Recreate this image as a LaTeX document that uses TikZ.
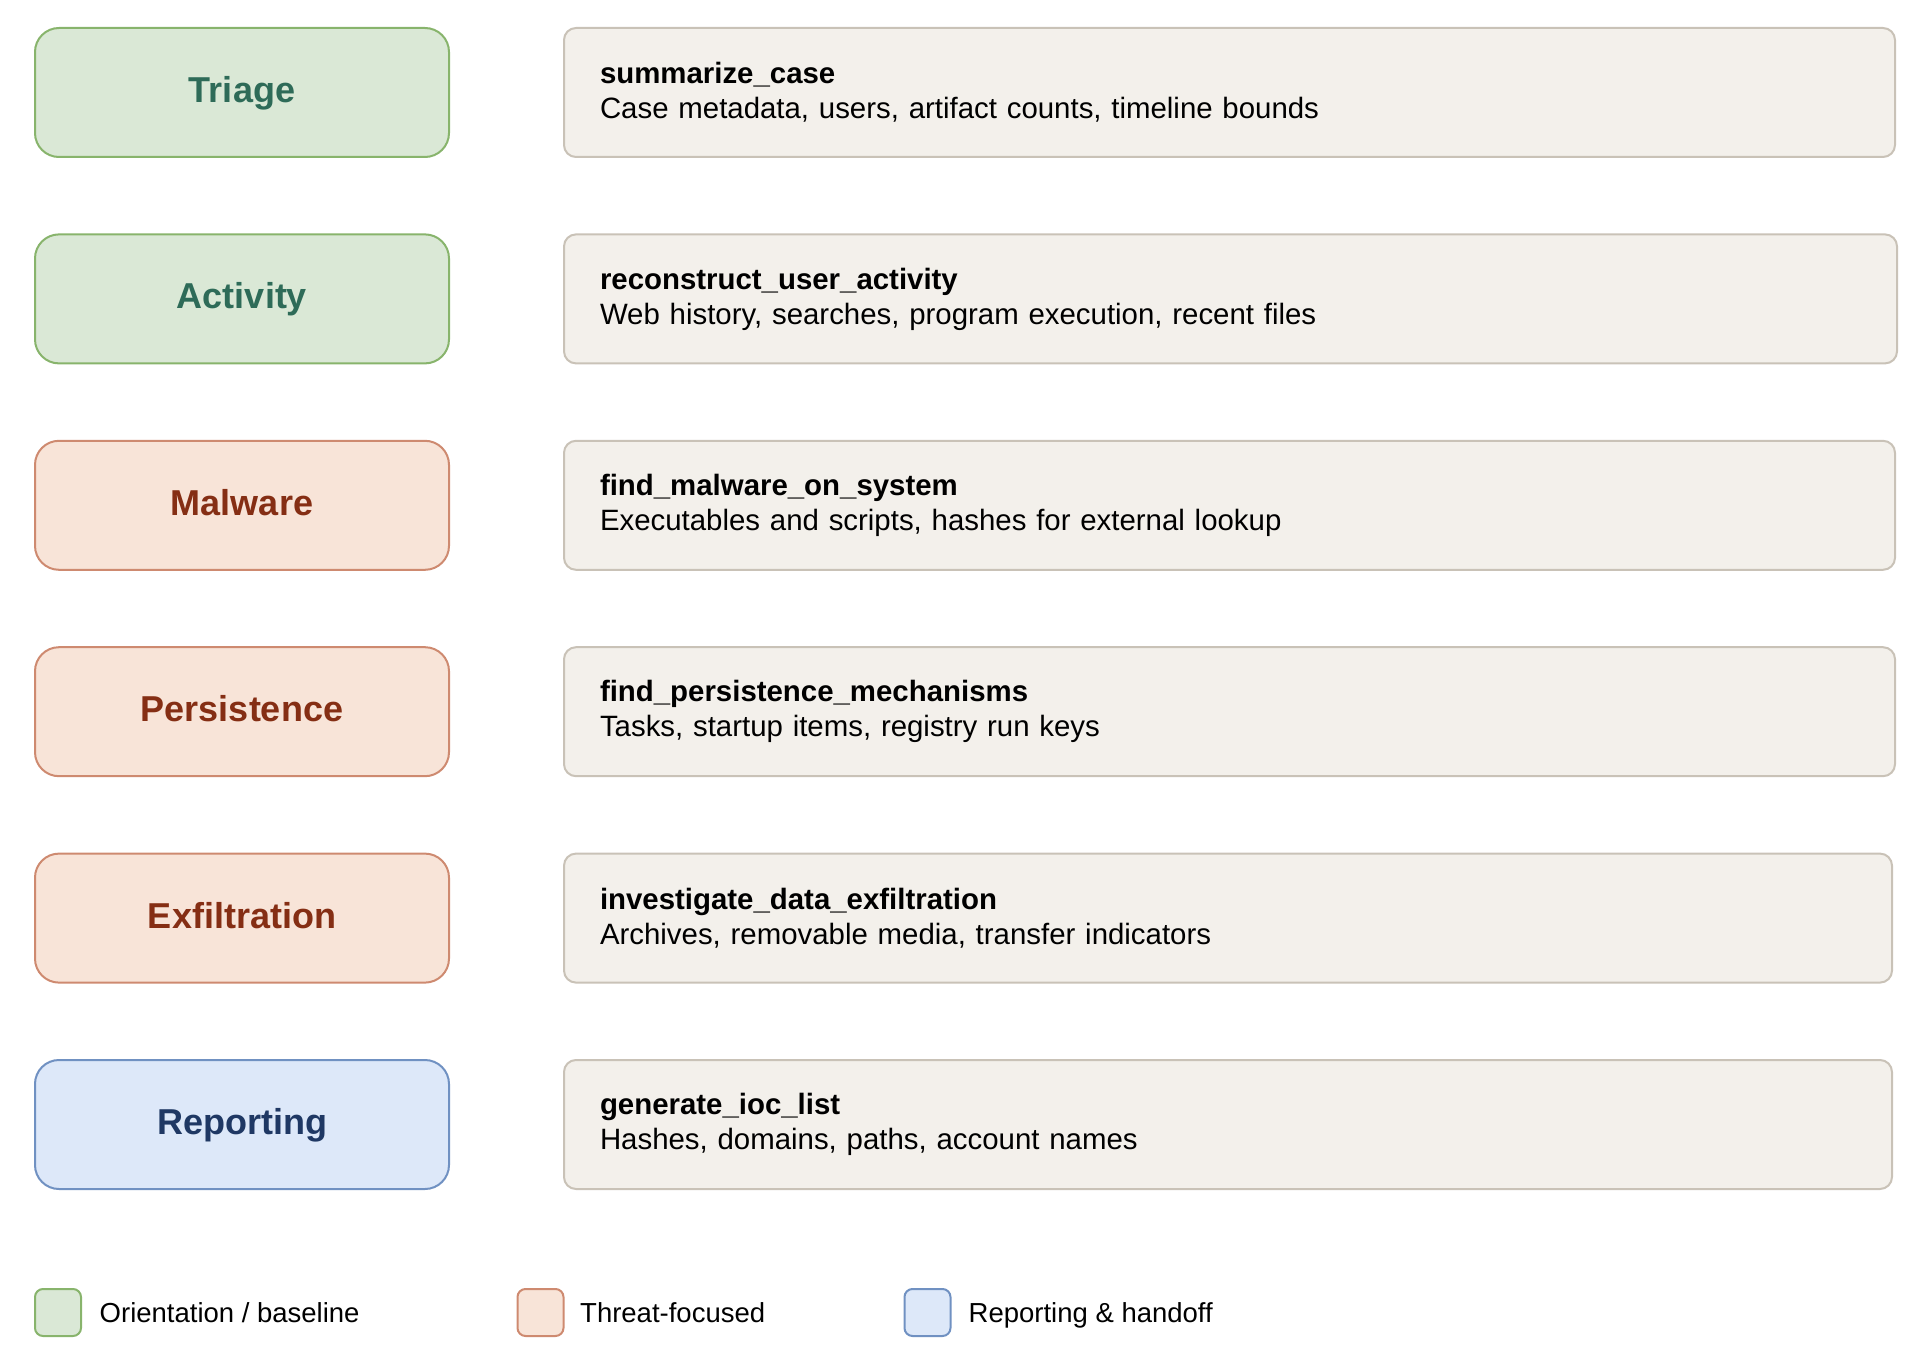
\documentclass[tikz,border=0pt]{standalone}
\usepackage{fontspec}
\setmainfont{Liberation Sans}
\usetikzlibrary{positioning}
\definecolor{greenfill}{HTML}{DAE8D6}
\definecolor{greenline}{HTML}{88B46C}
\definecolor{greentext}{HTML}{2E6B58}
\definecolor{redfill}{HTML}{F8E4D8}
\definecolor{redline}{HTML}{CE8A70}
\definecolor{redtext}{HTML}{852E14}
\definecolor{bluefill}{HTML}{DDE8F9}
\definecolor{blueline}{HTML}{7091C2}
\definecolor{bluetext}{HTML}{1F3864}
\definecolor{toolfill}{HTML}{F3F0EB}
\definecolor{toolline}{HTML}{C9C2B7}
\tikzset{
  phase/.style={draw, line width=2pt, rounded corners=24pt,
    minimum width=414pt, minimum height=129pt, inner sep=0pt,
    text height=26pt, text depth=6pt,
    font=\fontsize{36}{43}\selectfont\bfseries},
  orient/.style={phase, fill=greenfill, draw=greenline, text=greentext},
  threat/.style={phase, fill=redfill, draw=redline, text=redtext},
  handoff/.style={phase, fill=bluefill, draw=blueline, text=bluetext},
  tool/.style={draw=toolline, fill=toolfill, line width=2pt,
    rounded corners=12pt, anchor=west, minimum height=129pt,
    inner xsep=36pt, inner ysep=0pt, align=left,
    font=\fontsize{29.4}{35}\selectfont},
  swatch/.style={draw, line width=2pt, rounded corners=8pt, inner sep=0pt,
    minimum width=46pt, minimum height=47pt},
  legendtext/.style={anchor=base west, inner sep=0pt,
    font=\fontsize{27.5}{33}\selectfont}
}
\begin{document}
\begin{tikzpicture}[x=1pt,y=-1pt]
  \useasboundingbox (0,0) rectangle (1930,1372);
  % phases
  \node[orient] (triage) at (242,92.5) {Triage};
  \node[orient] (activity) at (242,298.9) {Activity};
  \node[threat] (malware) at (242,505.3) {Malware};
  \node[threat] (persist) at (242,711.7) {Persistence};
  \node[threat] (exfil) at (242,918.1) {Exfiltration};
  \node[handoff] (report) at (242,1124.5) {Reporting};
  % tools
  \node[tool, text width=1259pt] (summarize) at (563,92.5)
    {\textbf{summarize\_case}\\Case metadata, users, artifact counts, timeline bounds};
  \node[tool, text width=1261pt] (reconstruct) at (563,298.9)
    {\textbf{reconstruct\_user\_activity}\\Web history, searches, program execution, recent files};
  \node[tool, text width=1259pt] (findmalware) at (563,505.3)
    {\textbf{find\_malware\_on\_system}\\Executables and scripts, hashes for external lookup};
  \node[tool, text width=1259pt] (findpersist) at (563,711.7)
    {\textbf{find\_persistence\_mechanisms}\\Tasks, startup items, registry run keys};
  \node[tool, text width=1256pt] (exfiltool) at (563,918.1)
    {\textbf{investigate\_data\_exfiltration}\\Archives, removable media, transfer indicators};
  \node[tool, text width=1256pt] (ioclist) at (563,1124.5)
    {\textbf{generate\_ioc\_list}\\Hashes, domains, paths, account names};
  % legend
  \node[swatch, fill=greenfill, draw=greenline] (keyorient) at (58,1312.5) {};
  \node[legendtext] (keyorienttext) at (99.5,1322) {Orientation / baseline};
  \node[swatch, fill=redfill, draw=redline] (keythreat) at (540.5,1312.5) {};
  \node[legendtext] (keythreattext) at (580,1322) {Threat-focused};
  \node[swatch, fill=bluefill, draw=blueline] (keyhandoff) at (927.5,1312.5) {};
  \node[legendtext] (keyhandofftext) at (968.5,1322) {Reporting \& handoff};
\end{tikzpicture}
\end{document}
